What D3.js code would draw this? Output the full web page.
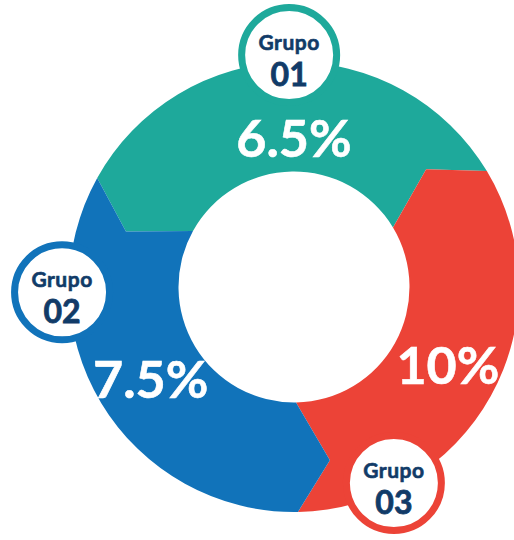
<!DOCTYPE html>
<html>
<head>
<meta charset="utf-8">
<script src="https://cdn.jsdelivr.net/npm/d3@7"></script>
<style>
  html, body { margin: 0; padding: 0; background: #ffffff; }
  svg { display: block; }
</style>
</head>
<body>
<svg id="chart" width="514" height="540"></svg>
<script>
// Groups, their rates and the labels printed on the ring
const groupIds   = ["01", "02", "03"];
const groupWord  = "Grupo";
const rates      = [6.5, 7.5, 10];
const rateLabels = ["6.5%", "7.5%", "10%"];
const colors     = ["#1ea99b", "#1173ba", "#ec4337"];

// Order of the groups going clockwise round the ring, from the upper left
const ringOrder = [0, 2, 1];

const W = 514, H = 540;
const cx = 294, cy = 287;
const rInner = 115.5, rOuter = 225;
const rNotch = 177;                  // radius of the chevron points between sectors
const notchShift = 10.7 * Math.PI / 180;
const startDeg = -61;

// Layout of the badges and of the rate labels (polar, degrees clockwise from 12 o'clock)
const badgePos = [
  { angle: -1.2, dist: 232 },
  { angle: 268.7, dist: 232 },
  { angle: 153.0, dist: 220 }
];
const labelPos = [
  { angle: 0, dist: 150 },
  { angle: 237.5, dist: 170 },
  { angle: 116.5, dist: 172 }
];

const svg = d3.select("#chart");

const rows = groupIds.map((id, i) => ({
  id, rate: rates[i], label: rateLabels[i], color: colors[i], index: i
}));

// one equal sector per group
const pie = d3.pie()
  .value(() => 1)
  .sort(null)
  .startAngle(startDeg * Math.PI / 180)
  .endAngle((startDeg + 360) * Math.PI / 180);

const arcs = pie(ringOrder.map(i => rows[i]));

const pt = (a, r) => [cx + r * Math.sin(a), cy - r * Math.cos(a)];

// Sector with an arrow point at its start and a matching notch at its end
function sectorPath(d) {
  const a0 = d.startAngle, a1 = d.endAngle;
  const p = d3.path();
  const o0 = pt(a0, rOuter);
  p.moveTo(o0[0], o0[1]);
  p.arc(cx, cy, rOuter, a0 - Math.PI / 2, a1 - Math.PI / 2, false);
  const n1 = pt(a1 - notchShift, rNotch);
  p.lineTo(n1[0], n1[1]);
  const i1 = pt(a1, rInner);
  p.lineTo(i1[0], i1[1]);
  p.arc(cx, cy, rInner, a1 - Math.PI / 2, a0 - Math.PI / 2, true);
  const t0 = pt(a0 - notchShift, rNotch);
  p.lineTo(t0[0], t0[1]);
  p.closePath();
  return p.toString();
}

svg.append("g")
  .selectAll("path")
  .data(arcs)
  .join("path")
  .attr("d", sectorPath)
  .attr("fill", d => d.data.color);

// rate labels
svg.append("g")
  .selectAll("text")
  .data(rows)
  .join("text")
  .attr("x", d => pt(labelPos[d.index].angle * Math.PI / 180, labelPos[d.index].dist)[0])
  .attr("y", d => pt(labelPos[d.index].angle * Math.PI / 180, labelPos[d.index].dist)[1])
  .attr("text-anchor", "middle")
  .attr("dominant-baseline", "central")
  .attr("font-family", "Lato, 'Open Sans', sans-serif")
  .attr("font-weight", 700)
  .attr("font-size", 52)
  .attr("fill", "#ffffff")
  .attr("stroke", "#ffffff")
  .attr("stroke-width", 0.6)
  .text(d => d.label);

// group badges
const badges = svg.append("g")
  .selectAll("g")
  .data(rows)
  .join("g")
  .attr("transform", d => {
    const b = badgePos[d.index];
    const [x, y] = pt(b.angle * Math.PI / 180, b.dist);
    return `translate(${x},${y})`;
  });

badges.append("circle")
  .attr("r", 47.5)
  .attr("fill", "#ffffff")
  .attr("stroke", d => d.color)
  .attr("stroke-width", 7);

badges.append("text")
  .attr("y", -5)
  .attr("text-anchor", "middle")
  .attr("font-family", "Lato, 'Open Sans', sans-serif")
  .attr("font-weight", 700)
  .attr("font-size", 21)
  .attr("letter-spacing", 0.5)
  .attr("fill", "#113b68")
  .attr("stroke", "#113b68")
  .attr("stroke-width", 0.6)
  .text(groupWord);

badges.append("text")
  .attr("y", 31)
  .attr("text-anchor", "middle")
  .attr("font-family", "Lato, 'Open Sans', sans-serif")
  .attr("font-weight", 700)
  .attr("font-size", 32)
  .attr("fill", "#113b68")
  .attr("stroke", "#113b68")
  .attr("stroke-width", 0.8)
  .text(d => d.id);
</script>
</body>
</html>
